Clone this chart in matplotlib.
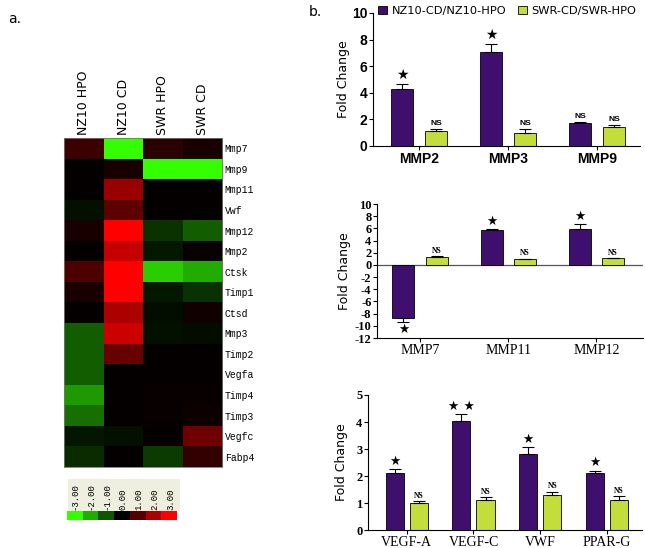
import matplotlib.pyplot as plt
import numpy as np
from matplotlib.colors import LinearSegmentedColormap

plt.rcParams['font.family'] = 'DejaVu Sans'

# ---- data ----
genes = ['Mmp7', 'Mmp9', 'Mmp11', 'Vwf', 'Mmp12', 'Mmp2', 'Ctsk', 'Timp1',
         'Ctsd', 'Mmp3', 'Timp2', 'Vegfa', 'Timp4', 'Timp3', 'Vegfc', 'Fabp4']
samples = ['NZ10 HPO', 'NZ10 CD', 'SWR HPO', 'SWR CD']
expr = np.array([
    [0.7, -3.0, 0.5, 0.3],
    [0.05, 0.3, -3.0, -3.0],
    [0.05, 1.8, 0.05, 0.05],
    [-0.2, 1.1, 0.05, 0.05],
    [0.3, 3.0, -0.6, -1.1],
    [0.05, 2.3, -0.3, 0.1],
    [0.9, 3.0, -2.4, -2.0],
    [0.3, 3.0, -0.3, -0.6],
    [0.05, 2.0, -0.15, 0.2],
    [-1.1, 2.4, -0.2, -0.15],
    [-1.1, 1.2, 0.05, 0.05],
    [-1.1, 0.05, 0.05, 0.05],
    [-1.8, 0.05, 0.1, 0.1],
    [-1.3, 0.05, 0.1, 0.15],
    [-0.25, -0.2, 0.05, 1.3],
    [-0.5, 0.05, -0.7, 0.6],
])
scale_vals = [-3, -2, -1, 0, 1, 2, 3]
scale_labels = ['-3.00', '-2.00', '-1.00', '0.00', '1.00', '2.00', '3.00']

labels_top = ['MMP2', 'MMP3', 'MMP9']
nz_top = [4.3, 7.05, 1.7]
nz_top_err = [0.35, 0.6, 0.12]
swr_top = [1.1, 1.0, 1.45]
swr_top_err = [0.15, 0.3, 0.1]
nz_top_sig = ['★', '★', 'NS']
swr_top_sig = ['NS', 'NS', 'NS']

labels_mid = ['MMP7', 'MMP11', 'MMP12']
nz_mid = [-8.7, 5.8, 5.9]
nz_mid_err = [0.6, 0.12, 0.8]
swr_mid = [1.3, 0.95, 1.1]
swr_mid_err = [0.15, 0.1, 0.06]
nz_mid_sig = ['★', '★', '★']
swr_mid_sig = ['NS', 'NS', 'NS']

labels_bot = ['VEGF-A', 'VEGF-C', 'VWF', 'PPAR-G']
nz_bot = [2.1, 4.02, 2.8, 2.1]
nz_bot_err = [0.15, 0.28, 0.28, 0.1]
swr_bot = [1.0, 1.12, 1.3, 1.1]
swr_bot_err = [0.08, 0.1, 0.12, 0.15]
nz_bot_sig = ['★', '★ ★', '★', '★']
swr_bot_sig = ['NS', 'NS', 'NS', 'NS']

purple = '#3f0f6e'
green = '#c3dd3a'

fig = plt.figure(figsize=(6.45, 5.48), dpi=100)

# ---- a. heatmap ----
cmap = LinearSegmentedColormap.from_list('gbr', ['#33ff00', '#000000', '#ff0000'])
axh = fig.add_axes([0.0992, 0.1478, 0.2450, 0.6002])
axh.imshow(expr, cmap=cmap, vmin=-3, vmax=3, aspect='auto', interpolation='nearest')
axh.set_xticks(range(len(samples)))
axh.set_xticklabels(samples, rotation=90, fontsize=9)
axh.xaxis.tick_top()
axh.set_yticks(range(len(genes)))
axh.set_yticklabels(genes, fontsize=7, family='Liberation Mono')
axh.yaxis.tick_right()
axh.tick_params(length=0, pad=2)
for s in axh.spines.values():
    s.set_color('#777777')
    s.set_linewidth(0.6)

# colour scale: beige label box + colour strip
axb = fig.add_axes([0.105, 0.0675, 0.174, 0.058])
axb.set_facecolor('#efefdf')
axb.set_xlim(-0.5, len(scale_vals) - 0.5)
axb.set_ylim(0, 1)
axb.set_xticks([])
axb.set_yticks([])
for s in axb.spines.values():
    s.set_visible(False)
for i, lab in enumerate(scale_labels):
    axb.text(i - 0.05, 0.04, lab, rotation=90, ha='center', va='bottom', fontsize=6.5,
             family='Liberation Mono')

axc = fig.add_axes([0.104, 0.051, 0.170, 0.0165])
axc.imshow([scale_vals], cmap=cmap, vmin=-3, vmax=3, aspect='auto')
axc.set_xticks([])
axc.set_yticks([])
for s in axc.spines.values():
    s.set_visible(False)

fig.text(0.012, 0.965, 'a.', fontsize=10, va='center')
fig.text(0.478, 0.978, 'b.', fontsize=10, va='center')


def bar_panel(ax, labels, nz, nz_err, swr, swr_err, nz_sig, swr_sig, off, w, sig_pad,
              star_size, ns_size, ns_font):
    x = np.arange(len(labels))
    nz = np.array(nz)
    swr = np.array(swr)
    ax.bar(x - off, nz, w, color=purple, edgecolor='black', linewidth=0.6, zorder=2,
           label='NZ10-CD/NZ10-HPO')
    ax.bar(x + off, swr, w, color=green, edgecolor='black', linewidth=0.6, zorder=2,
           label='SWR-CD/SWR-HPO')
    for xs, vals, errs in ((x - off, nz, nz_err), (x + off, swr, swr_err)):
        lower = [e if v < 0 else 0 for v, e in zip(vals, errs)]
        upper = [e if v >= 0 else 0 for v, e in zip(vals, errs)]
        ax.errorbar(xs, vals, yerr=[lower, upper], fmt='none', ecolor='black',
                    elinewidth=0.8, capsize=4, capthick=0.8, zorder=3)
    for xs, vals, errs, sigs in ((x - off, nz, nz_err, nz_sig), (x + off, swr, swr_err, swr_sig)):
        for xi, v, e, s in zip(xs, vals, errs, sigs):
            size = star_size if '★' in s else ns_size
            fam = ['DejaVu Sans'] if '★' in s else ns_font
            if v >= 0:
                ax.text(xi, v + e + sig_pad, s, ha='center', va='bottom', fontsize=size,
                        family=fam, fontweight='bold')
            else:
                ax.text(xi, v - e - sig_pad, s, ha='center', va='top', fontsize=size,
                        family=fam, fontweight='bold')
    ax.set_xticks(x)
    ax.spines['top'].set_visible(False)
    ax.spines['right'].set_visible(False)
    ax.tick_params(axis='x', length=3, width=0.8)
    ax.tick_params(axis='y', length=3, width=0.8, pad=1)
    return x


# ---- top panel ----
ax1 = fig.add_axes([0.578, 0.7336, 0.414, 0.2427])
bar_panel(ax1, labels_top, nz_top, nz_top_err, swr_top, swr_top_err, nz_top_sig, swr_top_sig,
          0.19, 0.25, 0.15, 10, 6, ['Liberation Sans'])
ax1.set_xlim(-0.52, 2.48)
ax1.set_ylim(0, 10)
ax1.set_yticks([0, 2, 4, 6, 8, 10])
ax1.set_xticklabels(labels_top, fontsize=10, fontweight='bold', family='Liberation Sans')
ax1.set_yticklabels(['0', '2', '4', '6', '8', '10'], fontsize=10, fontweight='bold',
                    family='Liberation Sans')
ax1.set_ylabel('Fold Change', fontsize=9, labelpad=1)
ax1.tick_params(axis='x', pad=1)
ax1.legend(loc='upper left', bbox_to_anchor=(0.02, 1.055), ncol=2, frameon=False, fontsize=8.2,
           handlelength=0.8, handleheight=0.8, handletextpad=0.4, columnspacing=1.0,
           borderaxespad=0, borderpad=0)

# ---- middle panel ----
ax2 = fig.add_axes([0.5845, 0.3832, 0.4125, 0.2445])
bar_panel(ax2, labels_mid, nz_mid, nz_mid_err, swr_mid, swr_mid_err, nz_mid_sig, swr_mid_sig,
          0.19, 0.25, 0.2, 9, 5.5, ['Liberation Serif'])
ax2.axhline(0, color='#555555', linewidth=0.9, zorder=1)
ax2.set_xlim(-0.49, 2.53)
ax2.set_ylim(-12, 10)
ax2.set_yticks(np.arange(-12, 11, 2))
ax2.set_xticklabels(labels_mid, fontsize=10, family='Liberation Serif')
ax2.set_yticklabels([str(v) for v in range(-12, 11, 2)], fontsize=9, fontweight='bold',
                    family='Liberation Serif')
ax2.set_ylabel('Fold Change', fontsize=9, labelpad=3)
ax2.tick_params(axis='x', pad=1)

# ---- bottom panel ----
ax3 = fig.add_axes([0.5705, 0.0328, 0.4245, 0.2464])
bar_panel(ax3, labels_bot, nz_bot, nz_bot_err, swr_bot, swr_bot_err, nz_bot_sig, swr_bot_sig,
          0.18, 0.27, 0.05, 9, 5.5, ['Liberation Serif'])
ax3.set_xlim(-0.58, 3.52)
ax3.set_ylim(0, 5)
ax3.set_yticks([0, 1, 2, 3, 4, 5])
ax3.set_xticklabels(labels_bot, fontsize=10, family='Liberation Serif')
ax3.set_yticklabels(['0', '1', '2', '3', '4', '5'], fontsize=9, fontweight='bold',
                    family='Liberation Serif')
ax3.set_ylabel('Fold Change', fontsize=9, labelpad=6)
ax3.tick_params(axis='x', pad=1)

plt.savefig('out.png', dpi=100, facecolor='white')
